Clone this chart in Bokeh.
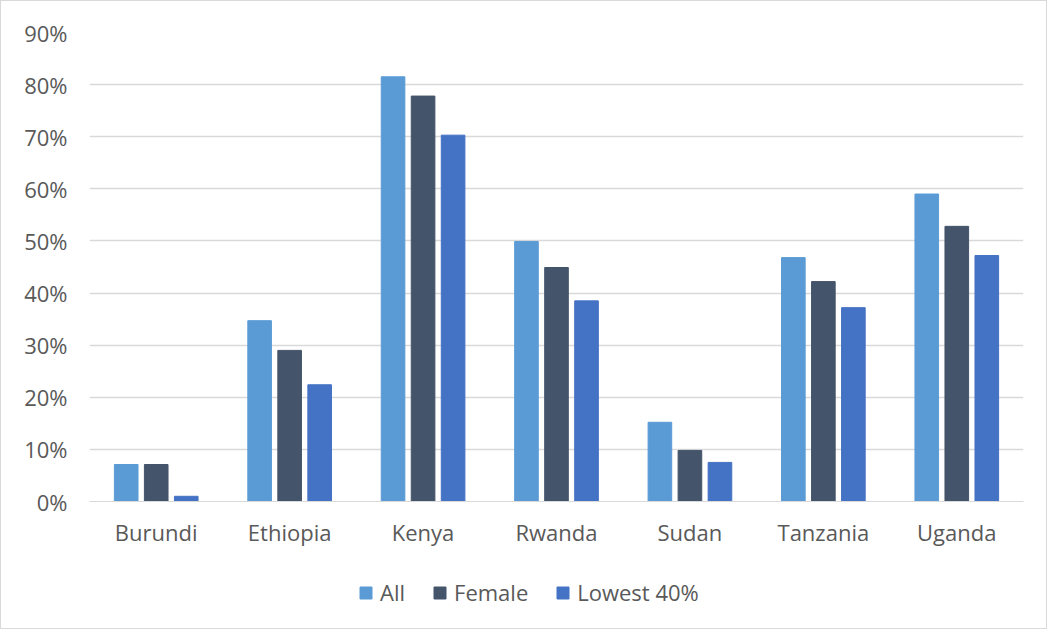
from bokeh.plotting import figure
from bokeh.layouts import column
from bokeh.models import ColumnDataSource, FactorRange, Legend, LegendItem, NumeralTickFormatter, FixedTicker, Range1d
from bokeh.transform import dodge
from bokeh.embed import file_html
from bokeh.resources import INLINE

countries = ["Burundi", "Ethiopia", "Kenya", "Rwanda", "Sudan", "Tanzania", "Uganda"]
all_vals = [0.071, 0.347, 0.815, 0.499, 0.152, 0.468, 0.590]
female_vals = [0.071, 0.290, 0.778, 0.449, 0.098, 0.422, 0.528]
lowest_vals = [0.010, 0.224, 0.703, 0.385, 0.075, 0.372, 0.472]
series_names = ["All", "Female", "Lowest 40%"]
colors = ["#5B9BD5", "#44546A", "#4472C4"]
y_ticks = [0, 0.1, 0.2, 0.3, 0.4, 0.5, 0.6, 0.7, 0.8, 0.9]

src = ColumnDataSource(dict(country=countries, all=all_vals, female=female_vals, lowest=lowest_vals))

FONT = "Open Sans"
TXT = "#595959"
FS = "22px"

p = figure(x_range=FactorRange(*countries, range_padding=0), y_range=(0, 0.9),
           width=1045, height=560, output_backend="svg", toolbar_location=None,
           min_border_left=88, min_border_right=23, min_border_top=31, min_border_bottom=60)
p.outline_line_color = None
p.background_fill_color = "white"
p.border_fill_color = "white"

bw = 0.177
off = 0.225
cols = ["all", "female", "lowest"]
for i, (c, col) in enumerate(zip(cols, colors)):
    p.vbar(x=dodge("country", (i - 1) * off, range=p.x_range), top=c, width=bw,
           source=src, fill_color=col, line_color=col)

p.yaxis.ticker = FixedTicker(ticks=y_ticks)
p.yaxis.formatter = NumeralTickFormatter(format="0%")
p.yaxis.axis_line_color = None
p.yaxis.major_tick_line_color = None
p.yaxis.minor_tick_line_color = None
p.yaxis.major_label_standoff = 16
p.xaxis.axis_line_color = "#d9d9d9"
p.xaxis.major_tick_line_color = None
p.xaxis.major_label_standoff = 9
for ax in (p.xaxis, p.yaxis):
    ax.major_label_text_font = FONT
    ax.major_label_text_font_size = FS
    ax.major_label_text_color = TXT
p.xgrid.grid_line_color = None
p.ygrid.grid_line_color = "#d9d9d9"
p.ygrid.grid_line_width = 1.3

# legend strip: same bars, but the y-range keeps them out of view
lg = figure(width=1045, height=67, output_backend="svg", toolbar_location=None,
            x_range=p.x_range, y_range=Range1d(10, 11), x_axis_type=None, y_axis_type=None,
            min_border=0)
lg.outline_line_color = None
lg.grid.visible = False
lg_renderers = []
for i, (c, col) in enumerate(zip(cols, colors)):
    lg_renderers.append(lg.vbar(x=dodge("country", (i - 1) * off, range=p.x_range), top=c, width=bw,
                                source=src, fill_color=col, line_color=col))

legend = Legend(items=[LegendItem(label=n, renderers=[r]) for n, r in zip(series_names, lg_renderers)],
                orientation="horizontal", location=(269, 21),
                label_text_font=FONT, label_text_font_size=FS, label_text_color=TXT,
                glyph_width=15, glyph_height=15, spacing=27, label_standoff=7,
                border_line_color=None, background_fill_alpha=0, margin=0, padding=0)
lg.add_layout(legend)

layout = column(p, lg, spacing=0)
layout.styles = {"border": "1px solid #d9d9d9", "background-color": "white"}

open("out.html", "w").write(file_html(layout, INLINE))
